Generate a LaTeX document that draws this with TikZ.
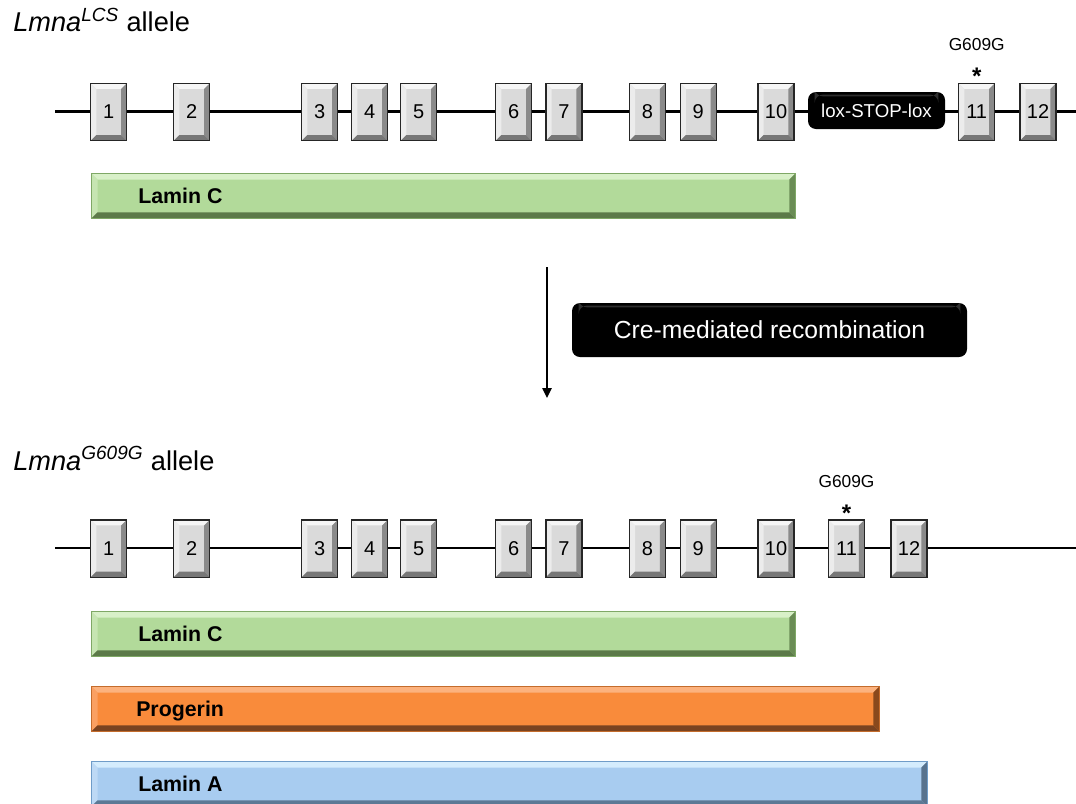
\documentclass[tikz,border=0pt]{standalone}
\usepackage{fontspec}
\setmainfont{Liberation Sans}
\usetikzlibrary{arrows.meta}
\definecolor{exfill}{HTML}{DADADA}
\definecolor{extop}{HTML}{F6F6F6}
\definecolor{exleft}{HTML}{ECECEC}
\definecolor{exright}{HTML}{8A8A8A}
\definecolor{exbot}{HTML}{777777}
\definecolor{grfill}{HTML}{B2DA9A}
\definecolor{grtop}{HTML}{D8F0C8}
\definecolor{grleft}{HTML}{C6E5B2}
\definecolor{grright}{HTML}{6A8C55}
\definecolor{grbot}{HTML}{5C7A49}
\definecolor{grline}{HTML}{7FA866}
\definecolor{orfill}{HTML}{F98B3B}
\definecolor{ortop}{HTML}{FCB27E}
\definecolor{orleft}{HTML}{FAA062}
\definecolor{orright}{HTML}{8A491C}
\definecolor{orbot}{HTML}{7A4320}
\definecolor{orline}{HTML}{C46C2C}
\definecolor{blfill}{HTML}{A8CCF0}
\definecolor{bltop}{HTML}{D4ECFD}
\definecolor{blleft}{HTML}{BDD9F5}
\definecolor{blright}{HTML}{58738E}
\definecolor{blbot}{HTML}{5C7995}
\definecolor{blline}{HTML}{6F9CC8}
\tikzset{
  bevel/.style n args={5}{path picture={
    \coordinate (NW) at (path picture bounding box.north west);
    \coordinate (NE) at (path picture bounding box.north east);
    \coordinate (SW) at (path picture bounding box.south west);
    \coordinate (SE) at (path picture bounding box.south east);
    \fill[#1] (NW) -- (NE) -- ([shift={(-#5,-#5)}]NE) -- ([shift={(#5,-#5)}]NW) -- cycle;
    \fill[#2] (NW) -- ([shift={(#5,-#5)}]NW) -- ([shift={(#5,#5)}]SW) -- (SW) -- cycle;
    \fill[#3] (NE) -- (SE) -- ([shift={(-#5,#5)}]SE) -- ([shift={(-#5,-#5)}]NE) -- cycle;
    \fill[#4] (SW) -- (SE) -- ([shift={(-#5,#5)}]SE) -- ([shift={(#5,#5)}]SW) -- cycle;
  }},
  exon/.style={draw=black!85, line width=1pt, fill=exfill, minimum width=27pt,
    minimum height=43pt, inner sep=0pt, font=\fontsize{15}{17}\selectfont,
    bevel={extop}{exleft}{exright}{exbot}{4.2pt}},
  intron/.style={line width=1.8pt, black},
  bar/.style={draw=#1line, line width=0.6pt, fill=#1fill, minimum height=33.75pt,
    inner sep=0pt, anchor=north west,
    bevel={#1top}{#1left}{#1right}{#1bot}{4.6pt}},
  bartext/.style={anchor=base west, inner sep=0pt, font=\fontsize{16}{18}\selectfont\bfseries},
  blackbox/.style={fill=black, rounded corners=6pt, inner sep=0pt, text=white,
    path picture={\fill[white,opacity=0.18] ([shift={(5pt,-2pt)}]path picture bounding box.north west) rectangle ([shift={(-5pt,-3.2pt)}]path picture bounding box.north east);}},
  title/.style={anchor=base west, inner sep=0pt, font=\fontsize{20.4}{22}\selectfont},
  mut/.style={inner sep=0pt, font=\fontsize{13}{15}\selectfont},
  star/.style={anchor=base, inner sep=0pt, font=\fontsize{18}{20}\selectfont\bfseries},
}
\begin{document}
\begin{tikzpicture}[x=0.75pt,y=-0.75pt]
\useasboundingbox (0,0) rectangle (1076,804);

% ---------- top allele ----------
\node[title] (title1) at (13,31.5) {\textit{Lmna}\textsuperscript{\textit{LCS}} allele};
\coordinate (tL) at (55,111.5);
\coordinate (tR) at (1076,111.5);
\draw[intron] (tL) -- (tR);
\foreach \n/\xx in {1/108.7,2/191.7,3/319.7,4/369.8,5/418.7,6/513.7,7/564,8/647.5,9/698.3,10/776,11/976.7,12/1038}
  \node[exon] (t\n) at (\xx,112) {\n};
\node[blackbox, minimum width=102.75pt, minimum height=27.75pt,
      font=\fontsize{14}{16}\selectfont] (lox) at (876.5,110.5) {lox-STOP-lox};
\node[mut] (mut1) at (976.7,45) {G609G};
\node[star] (star1) at (976.7,84) {*};
\node[bar=gr, minimum width=528pt] (lc1) at (91,173) {};
\node[bartext] (lc1t) at (138,203) {Lamin C};

% ---------- recombination ----------
\coordinate (aS) at (547,267);
\coordinate (aE) at (547,398);
\draw[line width=1.1pt, -{Triangle[length=7.5pt,width=7pt]}] (aS) -- (aE);
\node[blackbox, minimum width=296.25pt, minimum height=40.5pt,
      font=\fontsize{18.5}{20}\selectfont] (cre) at (769.5,330) {Cre-mediated recombination};

% ---------- bottom allele ----------
\node[title] (title2) at (13,470) {\textit{Lmna}\textsuperscript{\textit{G609G}} allele};
\coordinate (bL) at (55,548);
\coordinate (bR) at (1076,548);
\draw[intron] (bL) -- (bR);
\foreach \n/\xx in {1/108.7,2/191.7,3/319.7,4/369.8,5/418.7,6/513.7,7/564,8/647.5,9/698.3,10/776,11/846.5,12/909}
  \node[exon] (b\n) at (\xx,548.5) {\n};
\node[mut] (mut2) at (846.5,482) {G609G};
\node[star] (star2) at (846.5,521) {*};
\node[bar=gr, minimum width=528pt] (lc2) at (91,611) {};
\node[bartext] (lc2t) at (138,641) {Lamin C};
\node[bar=or, minimum width=591pt] (pg) at (91,686) {};
\node[bartext] (pgt) at (136,716.5) {Progerin};
\node[bar=bl, minimum width=627pt] (la) at (91,761) {};
\node[bartext] (lat) at (138,791) {Lamin A};
\end{tikzpicture}
\end{document}
